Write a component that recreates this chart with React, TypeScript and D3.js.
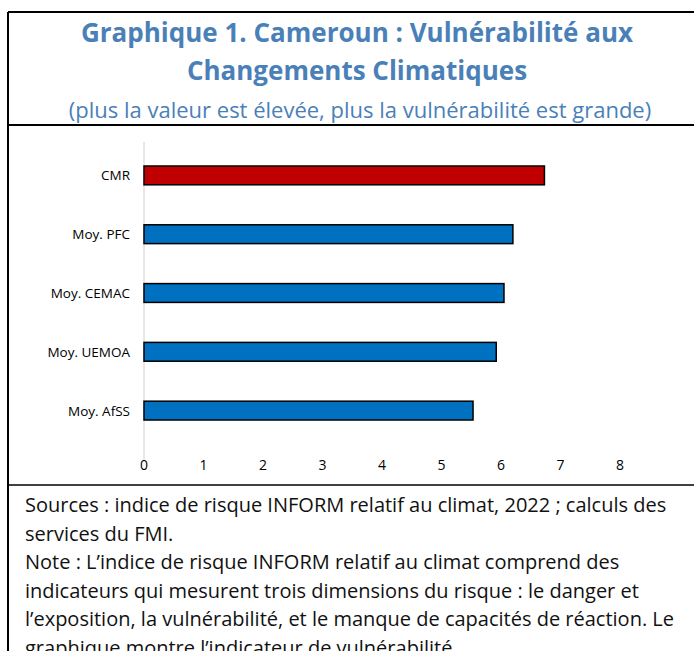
import React from "react";
import * as d3 from "d3";

const categories = ["CMR", "Moy. PFC", "Moy. CEMAC", "Moy. UEMOA", "Moy. AfSS"];
const values = [6.73, 6.2, 6.05, 5.92, 5.53];
const barColors = ["#C00000", "#0070C0", "#0070C0", "#0070C0", "#0070C0"];
const xTicks = [0, 1, 2, 3, 4, 5, 6, 7, 8];

const titleLines = ["Graphique 1. Cameroun : Vulnérabilité aux", "Changements Climatiques"];
const subtitle = "(plus la valeur est élevée, plus la vulnérabilité est grande)";
const noteLines = [
  "Sources : indice de risque INFORM relatif au climat, 2022 ; calculs des",
  "services du FMI.",
  "Note : L’indice de risque INFORM relatif au climat comprend des",
  "indicateurs qui mesurent trois dimensions du risque : le danger et",
  "l’exposition, la vulnérabilité, et le manque de capacités de réaction. Le",
  "graphique montre l’indicateur de vulnérabilité.",
];

const layout = {
  width: 694,
  height: 651,
  frameLeft: 8,
  frameTop: 12,
  titleRule: 125,
  noteRule: 485,
  plotLeft: 144,
  plotRight: 620,
  plotTop: 146,
  plotBottom: 440,
  font: "'Open Sans', 'Noto Sans', sans-serif",
  titleColor: "#4A80B8",
};

const App = () => {
  const x = d3
    .scaleLinear()
    .domain([0, 8])
    .range([layout.plotLeft, layout.plotRight]);

  const y = d3
    .scaleBand()
    .domain(categories)
    .range([layout.plotTop, layout.plotBottom])
    .paddingInner(0.68)
    .paddingOuter(0.34);

  return (
    <svg
      width={layout.width}
      height={layout.height}
      style={{ position: "absolute", left: 0, top: 0, background: "#fff" }}
      fontFamily={layout.font}
    >
      {/* frame */}
      <line x1={layout.frameLeft} y1={layout.frameTop} x2={layout.width} y2={layout.frameTop} stroke="#000" strokeWidth={2} />
      <line x1={layout.frameLeft} y1={layout.frameTop} x2={layout.frameLeft} y2={layout.height} stroke="#000" strokeWidth={2} />
      <line x1={layout.frameLeft} y1={layout.titleRule} x2={layout.width} y2={layout.titleRule} stroke="#000" strokeWidth={2} />
      <line x1={layout.frameLeft} y1={layout.noteRule} x2={layout.width} y2={layout.noteRule} stroke="#000" strokeWidth={1.5} />

      {/* titles */}
      {titleLines.map((t, i) => (
        <text
          key={t}
          x={357}
          y={42 + i * 38}
          textAnchor="middle"
          fontSize={26}
          fontWeight="bold"
          fill={layout.titleColor}
        >
          {t}
        </text>
      ))}
      <text x={360} y={118} textAnchor="middle" fontSize={22} fill={layout.titleColor}>
        {subtitle}
      </text>

      {/* axis */}
      <line
        x1={x(0)}
        y1={layout.plotTop - 4}
        x2={x(0)}
        y2={layout.plotBottom + 20}
        stroke="#D0D0D0"
        strokeWidth={1}
      />
      {xTicks.map((t) => (
        <text key={t} x={x(t)} y={470} textAnchor="middle" fontSize={14} fill="#000">
          {t}
        </text>
      ))}

      {/* bars */}
      {categories.map((c, i) => (
        <g key={c}>
          <text
            x={layout.plotLeft - 14}
            y={(y(c) ?? 0) + y.bandwidth() / 2 + 5}
            textAnchor="end"
            fontSize={13.5}
            fill="#000"
          >
            {c}
          </text>
          <rect
            x={x(0)}
            y={y(c)}
            width={x(values[i]) - x(0)}
            height={y.bandwidth()}
            fill={barColors[i]}
            stroke="#000"
            strokeWidth={1.5}
          />
        </g>
      ))}

      {/* note */}
      {noteLines.map((t, i) => (
        <text key={i} x={25} y={512 + i * 28.6} fontSize={20} fill="#111">
          {t}
        </text>
      ))}
    </svg>
  );
};

export default App;
